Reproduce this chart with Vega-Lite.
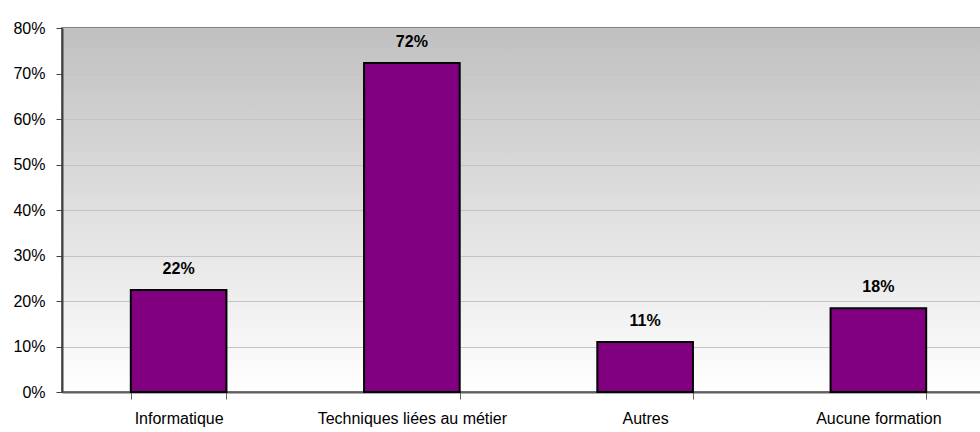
{
  "$schema": "https://vega.github.io/schema/vega-lite/v6.json",
  "autosize": "none",
  "padding": {"left": 62, "top": 28, "right": 0, "bottom": 40},
  "width": 933,
  "height": 364,
  "data": {"values": [
    {"cat": "Informatique", "v": 0.224, "lab": "22%"},
    {"cat": "Techniques liées au métier", "v": 0.723, "lab": "72%"},
    {"cat": "Autres", "v": 0.11, "lab": "11%"},
    {"cat": "Aucune formation", "v": 0.184, "lab": "18%"}
  ]},
  "config": {
    "font": "Liberation Sans",
    "view": {
      "fill": {"gradient": "linear", "x1": 0, "y1": 0, "x2": 0, "y2": 1,
        "stops": [{"offset": 0, "color": "#c0c0c0"}, {"offset": 1, "color": "#ffffff"}]},
      "stroke": "#808080",
      "strokeWidth": 2
    }
  },
  "encoding": {
    "x": {"field": "cat", "type": "nominal", "sort": null,
      "scale": {"paddingInner": 0.59, "paddingOuter": 0.295},
      "axis": {"title": null, "labelAngle": 0, "labelFontSize": 16, "labelColor": "#000000",
        "labelPadding": 11, "labelLimit": 400, "domainColor": "#606060", "domainWidth": 2,
        "tickBand": "extent", "tickColor": "#606060", "tickSize": 7, "tickWidth": 1}},
    "y": {"field": "v", "type": "quantitative",
      "scale": {"domain": [0, 0.8]},
      "axis": {"title": null, "format": ".0%", "values": [0, 0.1, 0.2, 0.3, 0.4, 0.5, 0.6, 0.7, 0.8],
        "labelOverlap": false, "labelFontSize": 16, "labelColor": "#000000", "labelPadding": 11,
        "domainColor": "#404040", "domainWidth": 2, "tickColor": "#404040", "tickSize": 6,
        "grid": true, "gridColor": "#c4c4c4", "gridWidth": 1}}
  },
  "layer": [
    {"mark": {"type": "bar", "color": "#800080", "stroke": "#000000", "strokeWidth": 2}},
    {"mark": {"type": "text", "fontWeight": "bold", "fontSize": 16, "baseline": "bottom", "dy": -13, "color": "#000000"},
      "encoding": {"text": {"field": "lab"}}}
  ]
}
